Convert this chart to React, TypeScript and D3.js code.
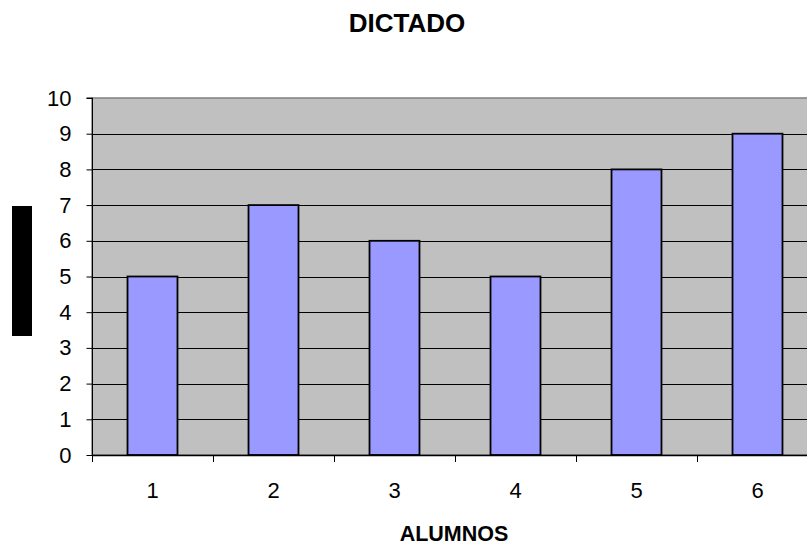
import { useEffect, useRef } from "react";
import * as d3 from "d3";

const categories = ["1", "2", "3", "4", "5", "6"];
const values = [5, 7, 6, 5, 8, 9];
const yTicks = [0, 1, 2, 3, 4, 5, 6, 7, 8, 9, 10];

export default function App() {
  const ref = useRef<SVGSVGElement>(null);

  useEffect(() => {
    const svg = d3.select(ref.current);
    const width = 807;
    const height = 548;
    const margin = { top: 98, right: -11, bottom: 93, left: 92 };
    const font = "'Liberation Sans', Arial, sans-serif";

    svg.selectAll("*").remove();
    svg.attr("viewBox", `0 0 ${width} ${height}`);

    const x = d3
      .scaleBand()
      .domain(categories)
      .range([margin.left, width - margin.right])
      .paddingInner(0.587)
      .paddingOuter(0.2935);

    const y = d3
      .scaleLinear()
      .domain([0, 10])
      .range([height - margin.bottom, margin.top]);

    // plot background
    svg
      .append("rect")
      .attr("x", margin.left)
      .attr("y", margin.top)
      .attr("width", width - margin.right - margin.left)
      .attr("height", y(0) - margin.top)
      .attr("fill", "#c0c0c0")
      .attr("stroke", "#808080")
      .attr("stroke-width", 1.5);

    // gridlines
    svg
      .append("g")
      .selectAll("line")
      .data(yTicks.filter((d) => d > 0 && d < 10))
      .join("line")
      .attr("x1", margin.left)
      .attr("x2", width - margin.right)
      .attr("y1", (d) => Math.round(y(d)) + 0.5)
      .attr("y2", (d) => Math.round(y(d)) + 0.5)
      .attr("stroke", "#000")
      .attr("stroke-width", 1);

    // bars
    svg
      .append("g")
      .selectAll("rect")
      .data(values)
      .join("rect")
      .attr("x", (d, i) => x(categories[i])!)
      .attr("y", (d) => y(d))
      .attr("width", x.bandwidth())
      .attr("height", (d) => y(0) - y(d))
      .attr("fill", "#9999ff")
      .attr("stroke", "#000")
      .attr("stroke-width", 1.8);

    // y axis
    svg
      .append("g")
      .attr("transform", `translate(${margin.left + 0.5},0)`)
      .call(d3.axisLeft(y).tickValues(yTicks).tickSize(6).tickPadding(15))
      .call((g) => g.select(".domain").attr("stroke", "#000").attr("d", `M-6,${y(10)}H0V${y(0)}`))
      .call((g) => g.selectAll("line").attr("stroke", "#000"))
      .call((g) =>
        g
          .selectAll("text")
          .attr("fill", "#000")
          .attr("font-size", 22)
          .attr("font-family", font)
      );

    // x axis
    const xTickPos = d3.range(categories.length + 1).map((i) => margin.left + i * x.step());
    const xa = svg.append("g");
    xa.append("line")
      .attr("x1", margin.left)
      .attr("x2", width - margin.right)
      .attr("y1", y(0) + 0.5)
      .attr("y2", y(0) + 0.5)
      .attr("stroke", "#000")
      .attr("stroke-width", 1.5);
    xa.selectAll("line.tick")
      .data(xTickPos)
      .join("line")
      .attr("class", "tick")
      .attr("x1", (d) => Math.round(d) + 0.5)
      .attr("x2", (d) => Math.round(d) + 0.5)
      .attr("y1", y(0))
      .attr("y2", y(0) + 7)
      .attr("stroke", "#000");
    xa.selectAll("text")
      .data(categories)
      .join("text")
      .attr("x", (d) => x(d)! + x.bandwidth() / 2)
      .attr("y", 498)
      .attr("text-anchor", "middle")
      .attr("fill", "#000")
      .attr("font-size", 22)
      .attr("font-family", font)
      .text((d) => d);

    // title
    svg
      .append("text")
      .attr("x", 407)
      .attr("y", 32)
      .attr("text-anchor", "middle")
      .attr("font-size", 26)
      .attr("font-weight", "bold")
      .attr("font-family", font)
      .text("DICTADO");

    // x axis title
    svg
      .append("text")
      .attr("x", 454)
      .attr("y", 541)
      .attr("text-anchor", "middle")
      .attr("font-size", 21.5)
      .attr("font-weight", "bold")
      .attr("font-family", font)
      .text("ALUMNOS");

    // y axis title (rendered as a solid block)
    svg
      .append("rect")
      .attr("x", 12)
      .attr("y", 206)
      .attr("width", 20)
      .attr("height", 130)
      .attr("fill", "#000");
  }, []);

  return (
    <svg
      ref={ref}
      width={807}
      height={548}
      style={{ position: "fixed", left: 0, top: 0, display: "block", background: "#fff" }}
    />
  );
}
